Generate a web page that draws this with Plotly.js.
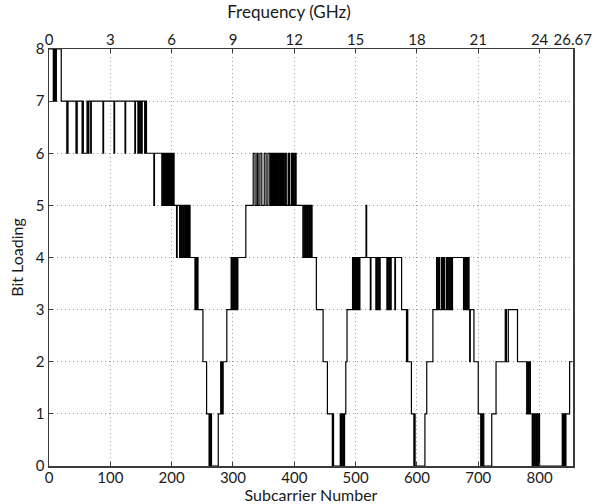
<!DOCTYPE html>
<html>
<head>
<meta charset="utf-8">
<script src="https://cdn.plot.ly/plotly-3.0.1.min.js"></script>
<style>html,body{margin:0;padding:0;background:#fff;}#chart{width:614px;height:504px;}</style>
</head>
<body>
<div id="chart"></div>
<script>
// Bit loading per subcarrier, stored as runs: run start subcarrier -> bits
const runStart = [
  0,7,8,9,10,11,12,20,
  29,31,44,46,54,55,56,62,64,65,68,69,
  88,89,106,107,124,125,140,141,
  145,146,148,149,151,152,156,157,159,
  171,172,184,185,186,187,188,189,190,191,192,193,194,195,196,197,198,199,200,201,202,203,204,
  208,209,213,214,216,217,219,220,222,223,224,225,226,227,228,229,230,
  238,239,240,241,243,
  251,257,261,262,263,264,265,
  276,280,281,282,283,284,
  290,297,298,300,301,303,304,306,307,308,
  321,
  333,336,339,341,344,347,351,354,357,360,362,363,364,365,366,367,368,370,371,373,375,376,377,378,379,380,381,383,385,387,390,392,395,396,397,398,399,400,402,403,
  414,416,418,419,421,422,424,425,427,428,429,
  436,447,454,462,463,464,
  475,476,477,478,480,481,482,484,486,
  495,496,497,498,499,500,501,502,503,504,505,506,507,
  517,518,524,525,533,534,536,537,539,540,551,552,554,555,557,558,564,565,575,
  583,584,585,591,595,596,597,
  613,616,626,
  632,633,634,635,636,637,640,641,642,643,644,645,648,649,650,651,653,654,656,657,658,
  676,677,679,680,682,683,685,686,687,693,
  700,704,705,706,707,709,
  722,729,744,746,749,764,
  779,780,782,783,785,
  788,789,791,792,794,795,797,798,800,
  837,838,839,840,841,842,843,849
];
const runBits = [
  8,7,8,7,8,7,8,7,
  6,7,6,7,6,7,6,7,6,7,6,7,
  6,7,6,7,6,7,6,7,
  6,7,6,7,6,7,6,7,6,
  5,6,5,6,5,6,5,6,5,6,5,6,5,6,5,6,5,6,5,6,5,6,5,
  4,5,4,5,4,5,4,5,4,5,4,5,4,5,4,5,4,
  3,4,3,4,3,
  2,1,0,1,0,1,0,
  1,2,1,2,1,2,
  3,4,3,4,3,4,3,4,3,4,
  5,
  6,5,6,5,6,5,6,5,6,5,6,5,6,5,6,5,6,5,6,5,6,5,6,5,6,5,6,5,6,5,6,5,6,5,6,5,6,5,6,5,
  4,5,4,5,4,5,4,5,4,5,4,
  3,2,1,0,1,0,
  1,0,1,0,1,0,1,2,3,
  4,3,4,3,4,3,4,3,4,3,4,3,4,
  5,4,3,4,3,4,3,4,3,4,3,4,3,4,3,4,3,4,3,
  2,3,2,1,0,1,0,
  1,2,3,
  4,3,4,3,4,3,4,3,4,3,4,3,4,3,4,3,4,3,4,3,4,
  3,4,3,4,3,4,3,2,3,2,
  1,0,1,0,1,0,
  1,2,3,2,3,2,
  1,2,1,2,1,
  0,1,0,1,0,1,0,1,0,
  1,0,1,0,1,0,1,2
];
const lastSubcarrier = 854;

const subTicks = [0,100,200,300,400,500,600,700,800];
const freqTickPos = [0,100,200,300,400,500,600,700,800,854];
const freqTickText = ['0','3','6','9','12','15','18','21','24','26.67'];
const bitTicks = [0,1,2,3,4,5,6,7,8];

const xs = runStart.concat([lastSubcarrier]);
const ys = runBits.concat([runBits[runBits.length-1]]);

const FONT = 'Lato, "Open Sans", sans-serif';
const trace = {
  x: xs, y: ys, type: 'scatter', mode: 'lines',
  line: {shape: 'hv', color: '#000', width: 1.2},
  hoverinfo: 'skip', showlegend: false
};
// same series on the top (frequency) axis, invisible, so that axis is drawn
const traceTop = {
  x: xs, y: ys, xaxis: 'x2', type: 'scatter', mode: 'lines',
  line: {shape: 'hv', color: 'rgba(0,0,0,0)', width: 0.5},
  opacity: 0, hoverinfo: 'skip', showlegend: false
};

const axisCommon = {
  showline: true, linecolor: '#3a3a3a', linewidth: 1.5,
  ticks: 'inside', ticklen: 4, tickcolor: '#3a3a3a', tickwidth: 1,
  showgrid: true, gridcolor: '#9a9a9a', gridwidth: 1, griddash: '1px,3px',
  zeroline: false, tickfont: {family: FONT, size: 15, color: '#1a1a1a'},
  automargin: false
};

const layout = {
  width: 614, height: 504,
  margin: {l: 49, r: 41, t: 49, b: 38},
  paper_bgcolor: '#fff', plot_bgcolor: '#fff',
  title: {text: 'Frequency (GHz)', font: {family: FONT, size: 17, color: '#1a1a1a'},
          x: 289/614, xanchor: 'center', xref: 'container', y: 1 - 12/504, yanchor: 'middle', yref: 'container'},
  xaxis: Object.assign({}, axisCommon, {
    range: [0, 854.5], tickmode: 'array', tickvals: subTicks, mirror: true,
    ticklabelstandoff: -3,
    title: {text: 'Subcarrier Number', font: {family: FONT, size: 16, color: '#1a1a1a'}, standoff: 0}
  }),
  xaxis2: Object.assign({}, axisCommon, {
    overlaying: 'x', side: 'top', anchor: 'y', showgrid: false, showline: false,
    range: [0, 854.5], tickmode: 'array', tickvals: freqTickPos, ticktext: freqTickText
  }),
  yaxis: Object.assign({}, axisCommon, {
    range: [0, 8], tickmode: 'array', tickvals: bitTicks, mirror: true,
    title: {text: 'Bit Loading', font: {family: FONT, size: 16, color: '#1a1a1a'}, standoff: 8}
  })
};

Plotly.newPlot('chart', [trace, traceTop], layout, {staticPlot: true, displayModeBar: false});
</script>
</body>
</html>
